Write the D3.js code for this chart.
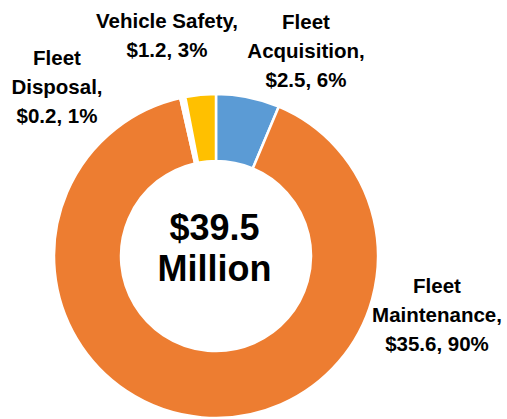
<!DOCTYPE html>
<html>
<head>
<meta charset="utf-8">
<script src="https://cdn.jsdelivr.net/npm/d3@7"></script>
<style>
 body { margin: 0; background: #fff; }
 svg { display: block; font-family: "Liberation Sans", Arial, sans-serif; }
</style>
</head>
<body>
<svg width="507" height="419"></svg>
<script>
// budget by category, millions of dollars
var categories = ["Fleet Acquisition", "Fleet Maintenance", "Fleet Disposal", "Vehicle Safety"];
var values = [2.5, 35.6, 0.2, 1.2];
var percents = ["6%", "90%", "1%", "3%"];
var labelLines = [
 ["Fleet", "Acquisition,", "$2.5, 6%"],
 ["Fleet", "Maintenance,", "$35.6, 90%"],
 ["Fleet", "Disposal,", "$0.2, 1%"],
 ["Vehicle Safety,", "$1.2, 3%"]
];
var totalText = ["$39.5", "Million"];

var colors = ["#5B9BD5", "#ED7D31", "#FFFFFF", "#FFC000"];
// where the label blocks sit (center x, first baseline)
var labelPos = [[306, 29], [437, 293], [57, 65], [167, 28]];

var svg = d3.select("svg"),
 cx = 216, cy = 256,
 outerR = 162, innerR = 95;

var data = categories.map(function (c, i) {
 return { name: c, value: values[i], pct: percents[i], lines: labelLines[i] };
});

var pie = d3.pie()
 .sort(null)
 .value(function (d) { return d.value; });

var arc = d3.arc()
 .innerRadius(innerR)
 .outerRadius(outerR);

var g = svg.append("g")
 .attr("transform", "translate(" + cx + "," + cy + ")");

g.selectAll("path")
 .data(pie(data))
 .enter().append("path")
 .attr("d", arc)
 .attr("fill", function (d, i) { return colors[i]; })
 .attr("stroke", "#fff")
 .attr("stroke-width", 2.5);

// center total
var center = svg.append("text")
 .attr("text-anchor", "middle")
 .attr("font-weight", "bold")
 .attr("font-size", 36)
 .attr("fill", "#000");
center.selectAll("tspan")
 .data(totalText)
 .enter().append("tspan")
 .attr("x", 214.5)
 .attr("y", function (d, i) { return 240 + i * 41; })
 .text(function (d) { return d; });

// data labels
var labels = svg.selectAll(".lbl")
 .data(data)
 .enter().append("text")
 .attr("class", "lbl")
 .attr("text-anchor", "middle")
 .attr("font-weight", "bold")
 .attr("font-size", 20.5)
 .attr("fill", "#000");

labels.each(function (d, i) {
 d3.select(this).selectAll("tspan")
  .data(d.lines)
  .enter().append("tspan")
  .attr("x", labelPos[i][0])
  .attr("y", function (t, j) { return labelPos[i][1] + j * 29.2; })
  .text(function (t) { return t; });
});
</script>
</body>
</html>
